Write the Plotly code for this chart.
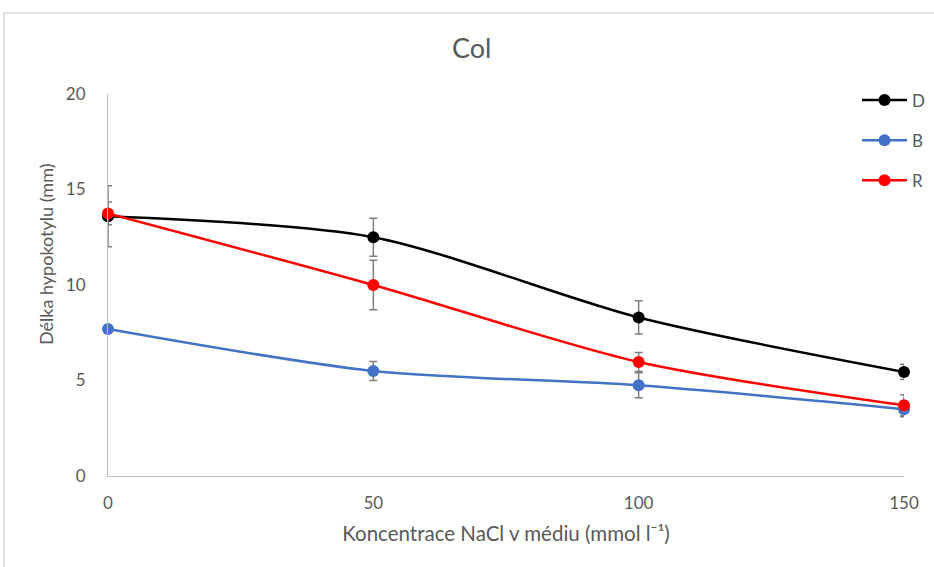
import plotly.graph_objects as go

# NaCl concentration in the medium (mmol/l)
nacl = [0, 50, 100, 150]

# Mean hypocotyl length (mm) per light condition
d_mean = [13.6, 12.5, 8.3, 5.45]
b_mean = [7.7, 5.5, 4.75, 3.5]
r_mean = [13.75, 10.0, 5.97, 3.7]

# Standard deviations
d_err = [1.6, 1.0, 0.87, 0.4]
b_err = [0.0, 0.5, 0.65, 0.4]
r_err = [0.6, 1.3, 0.5, 0.55]

series = [
    ("D", d_mean, d_err, "#000000"),
    ("B", b_mean, b_err, "#4472C4"),
    ("R", r_mean, r_err, "#FF0000"),
]

FONT = "Lato, 'Open Sans', sans-serif"
GREY = "#595959"

fig = go.Figure()
for name, mean, err, color in series:
    fig.add_trace(go.Scatter(
        x=nacl, y=mean, name=name, legendgroup=name,
        mode="lines+markers",
        line=dict(color=color, width=2.5, shape="spline", smoothing=0.8),
        marker=dict(color=color, size=12),
        error_y=dict(type="data", array=err, visible=True,
                     color="#7f7f7f", thickness=1.5, width=4),
        cliponaxis=False,
    ))

fig.update_layout(
    width=934, height=567,
    margin=dict(l=108, r=30, t=94, b=91, autoexpand=False),
    paper_bgcolor="white", plot_bgcolor="white",
    font=dict(family=FONT, color=GREY, size=17),
    title=dict(text="Col", x=0.505, xanchor="center", y=0.915, yanchor="middle",
               font=dict(size=27, color=GREY, family=FONT)),
    showlegend=True,
    legend=dict(x=0.941, y=1.03, xanchor="left", yanchor="top",
                traceorder="grouped", tracegroupgap=15,
                font=dict(size=17, color=GREY, family=FONT),
                bgcolor="rgba(0,0,0,0)", itemwidth=45),
    xaxis=dict(range=[0, 150], tickvals=nacl, showgrid=False, zeroline=False,
               showline=True, linecolor="#bfbfbf", linewidth=1, ticks="",
               ticklabelstandoff=12,
               tickfont=dict(size=17, color=GREY),
               title=dict(text="Koncentrace NaCl v médiu (mmol l⁻¹)",
                          font=dict(size=20.5, color=GREY), standoff=14)),
    yaxis=dict(range=[0, 20], tickvals=[0, 5, 10, 15, 20], showgrid=False,
               zeroline=False, showline=True, linecolor="#bfbfbf", linewidth=1,
               ticks="", ticklabelstandoff=18,
               tickfont=dict(size=17, color=GREY)),
    annotations=[dict(text="Délka hypokotylu (mm)", textangle=-90,
                      xref="paper", yref="paper",
                      x=(46 - 108) / 796, y=(476 - 255) / 382,
                      xanchor="center", yanchor="middle", showarrow=False,
                      font=dict(size=18, color=GREY, family=FONT))],
    shapes=[dict(type="rect", xref="paper", yref="paper",
                 x0=-0.1307, x1=1.1, y0=-0.4, y1=1.212,
                 line=dict(color="#d9d9d9", width=1.5), layer="below")],
)

fig.write_html("out.html")
